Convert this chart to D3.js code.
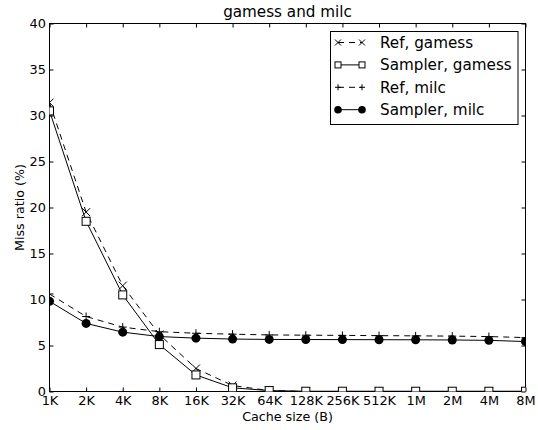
<!DOCTYPE html>
<html>
<head>
<meta charset="utf-8">
<script src="https://cdn.jsdelivr.net/npm/d3@7"></script>
<style>
  html, body { margin: 0; padding: 0; background: #fff; }
  svg { display: block; font-family: "DejaVu Sans", sans-serif; }
</style>
</head>
<body>
<svg id="chart" width="538" height="430"></svg>
<script>
const categories = ["1K","2K","4K","8K","16K","32K","64K","128K","256K","512K","1M","2M","4M","8M"];
const refGamess     = [31.4, 19.5, 11.5, 6.2, 2.5, 0.65, 0.1, 0, 0, 0, 0, 0, 0, 0];
const samplerGamess = [30.5, 18.5, 10.5, 5.1, 1.8, 0.4, 0.1, 0.03, 0.03, 0.03, 0.03, 0.03, 0.03, 0.03];
const refMilc       = [10.6, 8.15, 7.0, 6.5, 6.33, 6.23, 6.15, 6.12, 6.1, 6.07, 6.05, 6.02, 5.97, 5.86];
const samplerMilc   = [9.8, 7.4, 6.45, 5.97, 5.8, 5.7, 5.66, 5.65, 5.64, 5.63, 5.62, 5.6, 5.56, 5.43];
const yTicks = [0, 5, 10, 15, 20, 25, 30, 35, 40];

const seriesList = [
  { name: "Ref, gamess",     values: refGamess,     dash: "6,5", marker: "x" },
  { name: "Sampler, gamess", values: samplerGamess, dash: null,  marker: "square" },
  { name: "Ref, milc",       values: refMilc,       dash: "6,5", marker: "plus" },
  { name: "Sampler, milc",   values: samplerMilc,   dash: null,  marker: "circle" }
];

const L = 49.5, R = 525.5, T = 23.5, B = 391.5;
const svg = d3.select("#chart");

const x = d3.scalePoint().domain(categories).range([L, R]).padding(0);
const y = d3.scaleLinear().domain([0, 40]).range([B, T]);

svg.append("defs").append("clipPath").attr("id", "clip")
  .append("rect").attr("x", L).attr("y", T).attr("width", R - L).attr("height", B - T);

// axes (inward ticks)
const tickFont = "12.9px";
const gx = svg.append("g").attr("transform", `translate(0,${B})`)
  .call(d3.axisBottom(x).tickSizeInner(-4).tickSizeOuter(0).tickPadding(4));
gx.selectAll("text").style("font-size", tickFont).attr("fill", "#000").attr("font-family", "DejaVu Sans");
const gy = svg.append("g").attr("transform", `translate(${L},0)`)
  .call(d3.axisLeft(y).tickValues(yTicks).tickSizeInner(-4).tickSizeOuter(0).tickPadding(3.5));
gy.selectAll("text").style("font-size", tickFont).attr("fill", "#000").attr("font-family", "DejaVu Sans");
const gt = svg.append("g").attr("transform", `translate(0,${T})`)
  .call(d3.axisTop(x).tickSizeInner(-4).tickSizeOuter(0).tickFormat(""));
const gr = svg.append("g").attr("transform", `translate(${R},0)`)
  .call(d3.axisRight(y).tickValues(yTicks).tickSizeInner(-4).tickSizeOuter(0).tickFormat(""));
[gx, gy, gt, gr].forEach(g => { g.select(".domain").remove(); g.selectAll("line").attr("stroke", "#000"); });

svg.append("rect").attr("x", L).attr("y", T).attr("width", R - L).attr("height", B - T)
  .attr("fill", "none").attr("stroke", "#000").attr("stroke-width", 1);

function drawMarker(g, type, cx, cy, s, r) {
  if (type === "x") {
    g.append("path").attr("d", `M${cx-s},${cy-s}L${cx+s},${cy+s}M${cx-s},${cy+s}L${cx+s},${cy-s}`)
      .attr("stroke", "#000").attr("stroke-width", 1).attr("fill", "none");
  } else if (type === "plus") {
    g.append("path").attr("d", `M${cx-s},${cy}L${cx+s},${cy}M${cx},${cy-s}L${cx},${cy+s}`)
      .attr("stroke", "#000").attr("stroke-width", 1).attr("fill", "none");
  } else if (type === "square") {
    g.append("rect").attr("x", cx - s).attr("y", cy - s).attr("width", 2*s).attr("height", 2*s)
      .attr("fill", "#fff").attr("stroke", "#000").attr("stroke-width", 1);
  } else if (type === "circle") {
    g.append("circle").attr("cx", cx).attr("cy", cy).attr("r", r).attr("fill", "#000");
  }
}

const plot = svg.append("g").attr("clip-path", "url(#clip)");
const line = d3.line().x((d, i) => x(categories[i])).y(d => y(d));
seriesList.forEach(s => {
  plot.append("path").datum(s.values).attr("d", line)
    .attr("fill", "none").attr("stroke", "#000").attr("stroke-width", 1)
    .attr("stroke-dasharray", s.dash);
  s.values.forEach((v, i) => drawMarker(plot, s.marker, x(categories[i]), y(v), 4, 4.5));
});

// title and labels
svg.append("text").attr("x", (L + R) / 2).attr("y", 17).attr("text-anchor", "middle")
  .style("font-size", "15.2px").text("gamess and milc");
svg.append("text").attr("x", (L + R) / 2).attr("y", 420.5).attr("text-anchor", "middle")
  .style("font-size", "12.7px").text("Cache size (B)");
svg.append("text").attr("transform", `translate(24,${(T + B) / 2}) rotate(-90)`).attr("text-anchor", "middle")
  .style("font-size", "12.7px").text("Miss ratio (%)");

// legend
const lg = svg.append("g");
lg.append("rect").attr("x", 330.5).attr("y", 31.5).attr("width", 187.5).attr("height", 93)
  .attr("fill", "#fff").attr("stroke", "#000").attr("stroke-width", 1);
seriesList.forEach((s, i) => {
  const cy = 42.5 + i * 22.4;
  lg.append("line").attr("x1", 338).attr("x2", 362).attr("y1", cy).attr("y2", cy)
    .attr("stroke", "#000").attr("stroke-width", 1).attr("stroke-dasharray", s.dash ? "6,5" : null);
  drawMarker(lg, s.marker, 338, cy, 3, 3.8);
  drawMarker(lg, s.marker, 362, cy, 3, 3.8);
  lg.append("text").attr("x", 380).attr("y", cy).attr("dy", "0.36em")
    .style("font-size", "15.2px").text(s.name);
});
</script>
</body>
</html>
